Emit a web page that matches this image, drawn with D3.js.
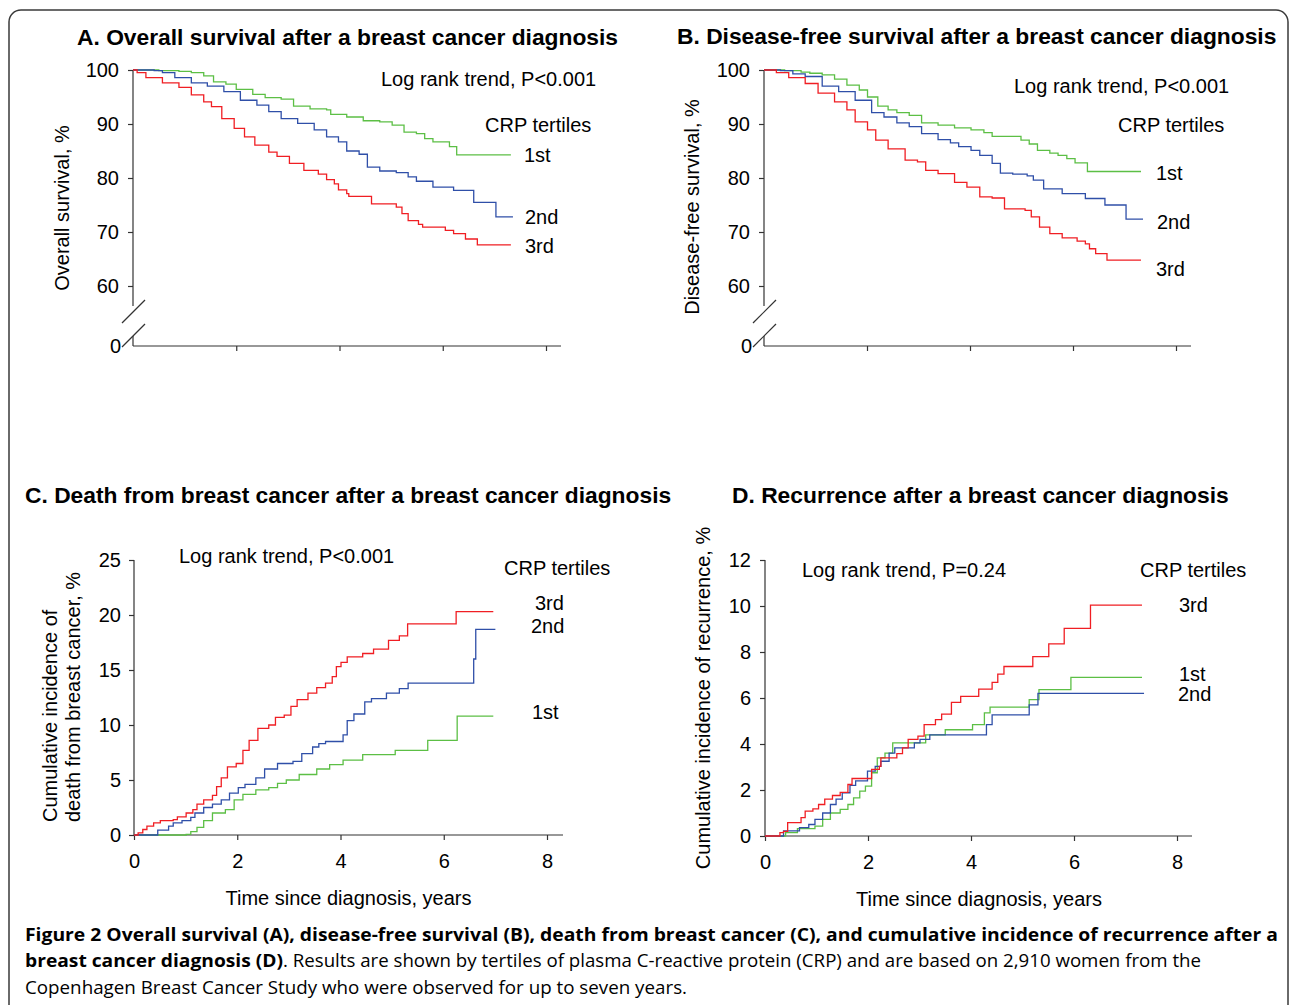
<!DOCTYPE html>
<html>
<head>
<meta charset="utf-8">
<script src="https://cdn.jsdelivr.net/npm/d3@7"></script>
<style>
  body { margin: 0; background: #fff; }
  svg text { font-family: "Liberation Sans", Arial, sans-serif; fill: #000; }
  svg .caption text { font-family: "Open Sans", sans-serif; }
</style>
</head>
<body>
<svg id="fig"></svg>
<script>
var svgWidth = 1290;
var svgHeight = 1005;

// CRP tertiles and their colours
var tertiles = ["1st", "2nd", "3rd"];
var tertileColors = ["#5cbf45", "#2f4fa8", "#f01e23"];

// tick values
var xTicks = [0, 2, 4, 6, 8];
var survTicks = [60, 70, 80, 90, 100];
var deathTicks = [0, 5, 10, 15, 20, 25];
var recurTicks = [0, 2, 4, 6, 8, 10, 12];

// A. overall survival, % ([years, value])
var osFirst = [[0,100],[0.5,99.9],[0.89,99.75],[1.13,99.5],[1.37,98.9],[1.56,97.8],[1.80,97.4],[2.0,96.4],[2.32,95.5],[2.56,94.9],[2.87,94.6],[3.11,93.3],[3.43,92.8],[3.75,92.6],[3.83,91.8],[4.14,91.3],[4.46,90.6],[4.78,90.4],[5.02,89.8],[5.25,88.5],[5.49,88.2],[5.65,87.3],[5.81,86.7],[6.13,85.8],[6.27,84.3],[7.32,84.3]];
var osSecond = [[0,100],[0.41,99.9],[0.57,99.5],[0.81,98.6],[1.13,97.6],[1.44,97.0],[1.76,96.0],[2.08,94.4],[2.40,93.5],[2.63,92.3],[2.87,91.0],[3.19,90.1],[3.51,88.9],[3.75,87.6],[3.98,86.7],[4.14,85.0],[4.38,84.4],[4.54,82.0],[4.78,81.3],[5.10,81.0],[5.33,80.2],[5.49,79.4],[5.81,78.3],[6.21,77.7],[6.60,75.5],[7.03,72.8],[7.36,72.8]];
var osThird = [[0,100],[0.08,99.5],[0.25,98.6],[0.57,97.6],[0.89,96.8],[1.13,95.4],[1.37,94.1],[1.52,93.2],[1.72,91.0],[1.96,89.2],[2.16,87.6],[2.36,86.1],[2.63,84.8],[2.79,84.0],[3.03,82.7],[3.31,81.4],[3.59,80.7],[3.75,79.7],[3.90,78.9],[3.98,77.8],[4.14,77.1],[4.18,76.6],[4.62,75.2],[5.10,74.6],[5.21,73.4],[5.33,72.1],[5.53,71.4],[5.61,70.9],[6.05,70.3],[6.21,69.7],[6.44,68.7],[6.67,67.6],[7.32,67.6]];

// B. disease-free survival, %
var dfsFirst = [[0,100],[0.40,99.9],[0.72,99.6],[0.89,99.4],[1.13,99.1],[1.37,98.3],[1.61,97.2],[1.85,96.3],[2.01,95.0],[2.21,93.3],[2.41,92.6],[2.58,92.1],[2.82,91.6],[3.06,90.2],[3.38,89.8],[3.70,89.3],[4.02,88.9],[4.27,88.4],[4.43,87.7],[4.99,87.0],[5.15,86.3],[5.31,85.1],[5.55,84.6],[5.71,84.2],[5.88,83.6],[6.04,82.8],[6.28,81.2],[7.32,81.2]];
var dfsSecond = [[0,100],[0.32,99.9],[0.56,99.3],[0.80,98.8],[1.13,97.0],[1.45,96.0],[1.77,94.4],[2.09,92.1],[2.33,91.3],[2.58,90.2],[2.82,89.5],[3.06,88.2],[3.38,87.1],[3.62,86.5],[3.78,85.8],[4.02,85.1],[4.19,84.2],[4.43,82.7],[4.59,80.9],[4.83,80.7],[5.11,80.4],[5.23,79.6],[5.43,78.0],[5.79,77.1],[6.24,76.2],[6.62,75.0],[7.03,72.4],[7.36,72.4]];
var dfsThird = [[0,100],[0.24,99.5],[0.48,98.6],[0.80,97.5],[1.05,95.7],[1.37,94.1],[1.61,92.6],[1.77,90.4],[2.01,88.9],[2.17,87.0],[2.41,85.4],[2.74,83.3],[2.98,83.0],[3.14,81.4],[3.38,80.8],[3.70,79.2],[3.94,78.3],[4.19,76.5],[4.43,76.3],[4.67,74.3],[5.07,74.0],[5.19,72.8],[5.35,70.9],[5.55,69.7],[5.79,68.9],[6.08,68.3],[6.24,67.8],[6.32,66.9],[6.44,66.0],[6.66,64.8],[7.32,64.8]];

// C. cumulative incidence of death from breast cancer, %
var bcdFirst = [[0,0],[1.01,0.05],[1.10,0.3],[1.22,0.7],[1.35,1.3],[1.52,2.0],[1.77,2.3],[1.94,3.2],[2.11,3.7],[2.36,4.1],[2.61,4.3],[2.78,4.7],[2.95,5.0],[3.20,5.5],[3.54,6.0],[3.79,6.4],[4.05,6.8],[4.43,7.3],[5.06,7.7],[5.69,8.6],[6.26,10.8],[6.96,10.8]];
var bcdSecond = [[0,0],[0.42,0],[0.46,0.45],[0.67,0.8],[0.76,1.1],[0.93,1.3],[1.10,1.6],[1.18,2.0],[1.35,2.5],[1.52,2.8],[1.69,3.2],[1.85,3.8],[2.02,4.3],[2.15,4.6],[2.36,5.2],[2.53,6.0],[2.78,6.5],[3.08,6.7],[3.25,7.4],[3.46,8.0],[3.58,8.3],[3.71,8.5],[4.05,9.1],[4.13,10.4],[4.26,11.0],[4.47,12.1],[4.60,12.4],[4.89,12.9],[5.14,13.3],[5.31,13.8],[6.58,16.0],[6.62,18.7],[7.00,18.7]];
var bcdThird = [[0,0],[0.08,0.2],[0.17,0.5],[0.25,0.8],[0.38,1.1],[0.51,1.3],[0.76,1.4],[0.84,1.65],[1.01,2.0],[1.14,2.3],[1.22,2.8],[1.35,3.2],[1.52,3.6],[1.60,4.4],[1.69,5.2],[1.81,6.2],[1.98,6.5],[2.11,7.7],[2.23,8.6],[2.40,9.7],[2.61,10.0],[2.74,10.7],[2.91,10.9],[3.04,11.7],[3.16,12.3],[3.37,12.9],[3.54,13.4],[3.71,13.8],[3.84,14.4],[3.92,15.3],[4.01,15.7],[4.13,16.2],[4.43,16.5],[4.64,16.9],[4.93,17.7],[5.14,18.1],[5.30,19.2],[6.24,20.3],[6.96,20.3]];

// D. cumulative incidence of recurrence, %
var recFirst = [[0,0],[0.36,0],[0.40,0.15],[0.63,0.32],[0.97,0.43],[1.12,0.72],[1.27,1.0],[1.46,1.16],[1.61,1.37],[1.72,1.66],[1.84,1.95],[1.95,2.17],[2.07,2.75],[2.18,3.4],[2.33,3.6],[2.48,4.05],[3.12,4.4],[3.50,4.62],[4.03,4.84],[4.26,5.35],[4.37,5.6],[5.13,5.93],[5.32,6.36],[5.94,6.9],[7.32,6.9]];
var recSecond = [[0,0],[0.29,0],[0.36,0.22],[0.67,0.36],[0.85,0.5],[0.97,0.72],[1.12,1.0],[1.27,1.37],[1.38,1.6],[1.50,1.88],[1.65,2.2],[1.76,2.4],[1.99,2.82],[2.14,3.03],[2.25,3.25],[2.41,3.6],[2.52,3.83],[2.90,4.05],[3.01,4.2],[3.20,4.4],[4.30,4.84],[4.41,5.27],[5.13,5.7],[5.30,6.2],[7.36,6.2]];
var recThird = [[0,0],[0.25,0],[0.29,0.15],[0.36,0.2],[0.44,0.58],[0.70,0.8],[0.78,1.08],[0.93,1.18],[1.04,1.37],[1.16,1.6],[1.31,1.76],[1.46,1.9],[1.61,2.24],[1.69,2.5],[2.07,2.9],[2.22,3.03],[2.25,3.4],[2.56,3.58],[2.67,3.83],[2.78,4.2],[2.97,4.34],[3.09,4.84],[3.31,5.06],[3.43,5.3],[3.62,5.81],[3.80,6.07],[4.15,6.39],[4.41,6.68],[4.52,7.04],[4.64,7.37],[5.20,7.8],[5.51,8.35],[5.81,9.03],[6.32,10.04],[7.32,10.04]];

var svg = d3.select("#fig")
  .attr("width", svgWidth)
  .attr("height", svgHeight);

// figure frame
svg.append("rect")
  .attr("x", 9).attr("y", 10)
  .attr("width", 1279).attr("height", 1030)
  .attr("rx", 12)
  .attr("fill", "none")
  .attr("stroke", "#3a3a3a")
  .attr("stroke-width", 1.5);

var axisColor = "#333";

function drawPanel(p) {
  var g = svg.append("g");

  var x = d3.scaleLinear().domain([0, 8]).range([p.left, p.x8]);
  var y = d3.scaleLinear().domain(p.yDomain).range([p.yBottom, p.yTop]);

  g.append("text")
    .attr("x", p.titleX).attr("y", p.titleY)
    .attr("font-size", 22.8)
    .attr("font-weight", "bold")
    .text(p.title);

  // y axis
  var yAxis = g.append("g")
    .attr("transform", `translate(${p.left},0)`)
    .call(d3.axisLeft(y).tickValues(p.yTicks).tickSize(5).tickPadding(p.yPad).tickSizeOuter(0))
    .attr("font-size", 20);
  yAxis.select(".domain").remove();
  yAxis.selectAll("line").attr("stroke", axisColor).attr("stroke-width", 1.2);
  yAxis.selectAll("text").attr("fill", "#000");

  if (p.broken) {
    // broken axis down to 0
    var yb = y(p.yDomain[0]);
    var brk = g.append("g").attr("stroke", axisColor).attr("stroke-width", 1.2);
    brk.append("line").attr("x1", p.left).attr("x2", p.left)
      .attr("y1", p.yTop).attr("y2", yb + 20);
    brk.append("line").attr("x1", p.left).attr("x2", p.left)
      .attr("y1", p.axisY - 10).attr("y2", p.axisY);
    brk.append("line").attr("x1", p.left - 11).attr("y1", yb + 37)
      .attr("x2", p.left + 12).attr("y2", yb + 14);
    brk.append("line").attr("x1", p.left - 11).attr("y1", p.axisY + 1)
      .attr("x2", p.left + 12).attr("y2", p.axisY - 22);
    g.append("text")
      .attr("x", p.left - 12).attr("y", p.axisY)
      .attr("dy", "0.35em")
      .attr("text-anchor", "end")
      .attr("font-size", 20)
      .text("0");
  } else {
    g.append("line").attr("x1", p.left).attr("x2", p.left)
      .attr("y1", p.yTop).attr("y2", p.axisY)
      .attr("stroke", axisColor).attr("stroke-width", 1.2);
  }

  // x axis
  var xAxis = g.append("g")
    .attr("transform", `translate(0,${p.axisY})`)
    .call(d3.axisBottom(x)
      .tickValues(p.broken ? xTicks.slice(1) : xTicks)
      .tickSize(5).tickPadding(14)
      .tickFormat(p.broken ? "" : d3.format("d")))
    .attr("font-size", 20);
  xAxis.select(".domain").remove();
  xAxis.selectAll("line").attr("stroke", axisColor).attr("stroke-width", 1.2);
  xAxis.selectAll("text").attr("fill", "#000");
  g.append("line")
    .attr("x1", p.left).attr("x2", p.xEnd)
    .attr("y1", p.axisY).attr("y2", p.axisY)
    .attr("stroke", axisColor).attr("stroke-width", 1.2);

  if (p.xLabel) {
    g.append("text")
      .attr("x", x(4) + 8).attr("y", p.axisY + 70)
      .attr("text-anchor", "middle")
      .attr("font-size", 20)
      .text(p.xLabel);
  }

  // y label(s)
  p.yLabel.forEach(function(l) {
    g.append("text")
      .attr("transform", `translate(${l[1]},${l[2]}) rotate(-90)`)
      .attr("text-anchor", l[3])
      .attr("font-size", 20)
      .text(l[0]);
  });

  // survival / incidence curves
  var line = d3.line()
    .x(d => x(d[0]))
    .y(d => y(d[1]))
    .curve(d3.curveStepAfter);

  p.series.forEach(function(s, i) {
    g.append("path")
      .datum(s)
      .attr("d", line)
      .attr("fill", "none")
      .attr("stroke", tertileColors[i])
      .attr("stroke-width", 1.3);
  });

  // annotations
  p.notes.forEach(function(n) {
    g.append("text")
      .attr("x", n[1]).attr("y", n[2])
      .attr("font-size", 20)
      .text(n[0]);
  });
}

drawPanel({
  title: "A. Overall survival after a breast cancer diagnosis", titleX: 77, titleY: 45,
  left: 133, x8: 546, xEnd: 561, axisY: 346,
  yDomain: [60, 100], yBottom: 286, yTop: 70, yTicks: survTicks, yPad: 9, broken: true,
  yLabel: [["Overall survival, %", 69, 208, "middle"]],
  series: [osFirst, osSecond, osThird],
  notes: [["Log rank trend, P<0.001", 381, 86], ["CRP tertiles", 485, 132],
          [tertiles[0], 524, 162], [tertiles[1], 525, 224], [tertiles[2], 525, 253]]
});

drawPanel({
  title: "B. Disease-free survival after a breast cancer diagnosis", titleX: 677, titleY: 44,
  left: 764, x8: 1176, xEnd: 1191, axisY: 346,
  yDomain: [60, 100], yBottom: 286, yTop: 70, yTicks: survTicks, yPad: 9, broken: true,
  yLabel: [["Disease-free survival, %", 699, 207, "middle"]],
  series: [dfsFirst, dfsSecond, dfsThird],
  notes: [["Log rank trend, P<0.001", 1014, 93], ["CRP tertiles", 1118, 132],
          [tertiles[0], 1156, 180], [tertiles[1], 1157, 229], [tertiles[2], 1156, 276]]
});

drawPanel({
  title: "C. Death from breast cancer after a breast cancer diagnosis", titleX: 25, titleY: 503,
  left: 134, x8: 547, xEnd: 563, axisY: 835,
  yDomain: [0, 25], yBottom: 835, yTop: 560, yTicks: deathTicks, yPad: 8, broken: false,
  xLabel: "Time since diagnosis, years",
  yLabel: [["Cumulative incidence of", 57, 822, "start"], ["death from breast cancer, %", 80, 822, "start"]],
  series: [bcdFirst, bcdSecond, bcdThird],
  notes: [["Log rank trend, P<0.001", 179, 563], ["CRP tertiles", 504, 575],
          [tertiles[2], 535, 610], [tertiles[1], 531, 633], [tertiles[0], 532, 719]]
});

drawPanel({
  title: "D. Recurrence after a breast cancer diagnosis", titleX: 732, titleY: 503,
  left: 765, x8: 1177, xEnd: 1192, axisY: 836,
  yDomain: [0, 12], yBottom: 836, yTop: 560, yTicks: recurTicks, yPad: 9, broken: false,
  xLabel: "Time since diagnosis, years",
  yLabel: [["Cumulative incidence of recurrence, %", 710, 698, "middle"]],
  series: [recFirst, recSecond, recThird],
  notes: [["Log rank trend, P=0.24", 802, 577], ["CRP tertiles", 1140, 577],
          [tertiles[2], 1179, 612], [tertiles[0], 1179, 681], [tertiles[1], 1178, 701]]
});

// figure caption
var cap = svg.append("g").attr("class", "caption").attr("font-size", 17.5);
cap.append("text")
  .attr("x", 25).attr("y", 941)
  .attr("font-weight", "bold").attr("fill", "#231f20")
  .attr("textLength", 1253).attr("lengthAdjust", "spacingAndGlyphs")
  .text("Figure 2 Overall survival (A), disease-free survival (B), death from breast cancer (C), and cumulative incidence of recurrence after a");
cap.append("text")
  .attr("x", 25).attr("y", 967)
  .attr("font-weight", "bold").attr("fill", "#231f20")
  .attr("textLength", 258).attr("lengthAdjust", "spacingAndGlyphs")
  .text("breast cancer diagnosis (D)");
cap.append("text")
  .attr("x", 283).attr("y", 967)
  .attr("fill", "#444")
  .attr("textLength", 918).attr("lengthAdjust", "spacingAndGlyphs")
  .text(". Results are shown by tertiles of plasma C-reactive protein (CRP) and are based on 2,910 women from the");
cap.append("text")
  .attr("x", 25).attr("y", 994)
  .attr("fill", "#444")
  .attr("textLength", 662).attr("lengthAdjust", "spacingAndGlyphs")
  .text("Copenhagen Breast Cancer Study who were observed for up to seven years.");
</script>
</body>
</html>
